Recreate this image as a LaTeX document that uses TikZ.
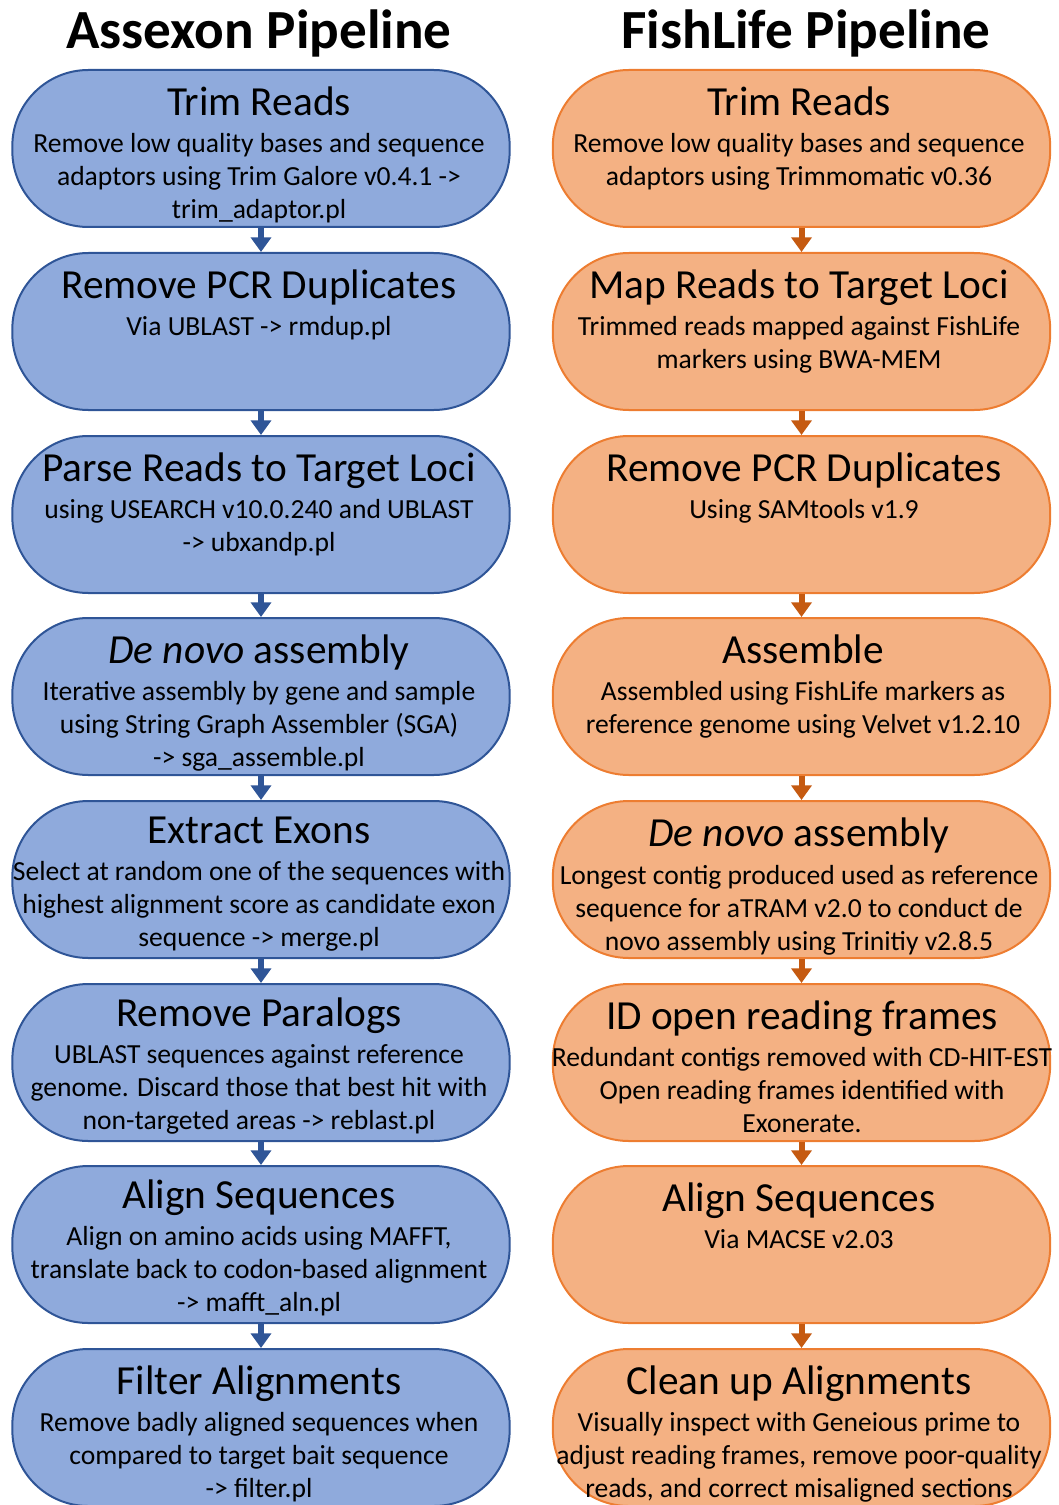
\documentclass[tikz,border=0pt]{standalone}
\usepackage{fontspec}
\setmainfont{Carlito}
\usetikzlibrary{arrows.meta}
\definecolor{asxfill}{HTML}{8FAADC}
\definecolor{asxline}{HTML}{2F5597}
\definecolor{fshfill}{HTML}{F4B183}
\definecolor{fshline}{HTML}{ED7D31}
\definecolor{fsharr}{HTML}{C55A11}
\newcommand{\fl}{\rule{0pt}{20pt}}
\tikzset{
    stage/.style={rectangle, rounded corners=57pt, minimum width=373pt,
                  minimum height=117.75pt, line width=1.5pt, inner sep=0pt},
    asx/.style={stage, draw=asxline, fill=asxfill},
    fsh/.style={stage, draw=fshline, fill=fshfill},
    ttl/.style={anchor=base, inner sep=0pt, font=\fontsize{31}{36}\selectfont},
    txt/.style={anchor=north, align=center, inner sep=0pt,
                font=\fontsize{20.7}{24.75}\selectfont},
    head/.style={anchor=base, inner sep=0pt, font=\bfseries\fontsize{41.4}{46}\selectfont},
    asxarr/.style={draw=asxline, line width=4.5pt, -{Triangle[width=15pt,length=11pt]}},
    fsharr/.style={draw=fsharr, line width=4.5pt, -{Triangle[width=15pt,length=11pt]}}
}
\begin{document}
\begin{tikzpicture}[x=0.75pt, y=-0.75pt]
  \useasboundingbox (0,0) rectangle (1058,1505);

  \node[head] (ha) at (259, 48.5) {Assexon Pipeline};
  \node[head] (hf) at (806, 48.5) {FishLife Pipeline};

  % Assexon column
  \node[asx] (a1) at (261, 148.5) {};
  \node[asx] (a2) at (261, 331.5) {};
  \node[asx] (a3) at (261, 514.5) {};
  \node[asx] (a4) at (261, 696.5) {};
  \node[asx] (a5) at (261, 879.5) {};
  \node[asx] (a6) at (261, 1062.5) {};
  \node[asx] (a7) at (261, 1244.5) {};
  \node[asx] (a8) at (261, 1427.5) {};

  \node[ttl] (a1t) at (259, 115.5) {Trim Reads};
  \node[txt] (a1b) at (259, 125.3) {\fl Remove low quality bases and sequence\\
    adaptors using Trim Galore v0.4.1 ->\\ trim\_adaptor.pl};
  \node[ttl] (a2t) at (259, 298.5) {Remove PCR Duplicates};
  \node[txt] (a2b) at (259, 308.3) {\fl Via UBLAST -> rmdup.pl};
  \node[ttl] (a3t) at (259, 481.5) {Parse Reads to Target Loci};
  \node[txt] (a3b) at (259, 491.3) {\fl using USEARCH v10.0.240 and UBLAST\\
    -> ubxandp.pl};
  \node[ttl] (a4t) at (259, 663.5) {\textit{De novo} assembly};
  \node[txt] (a4b) at (259, 673.3) {\fl Iterative assembly by gene and sample\\
    using String Graph Assembler (SGA)\\ -> sga\_assemble.pl};
  \node[ttl] (a5t) at (259, 843.5) {Extract Exons};
  \node[txt] (a5b) at (259, 853.3) {\fl Select at random one of the sequences with\\
    highest alignment score as candidate exon\\ sequence -> merge.pl};
  \node[ttl] (a6t) at (259, 1026.5) {Remove Paralogs};
  \node[txt] (a6b) at (259, 1036.3) {\fl UBLAST sequences against reference\\
    genome. Discard those that best hit with\\ non-targeted areas -> reblast.pl};
  \node[ttl] (a7t) at (259, 1208.5) {Align Sequences};
  \node[txt] (a7b) at (259, 1218.3) {\fl Align on amino acids using MAFFT,\\
    translate back to codon-based alignment\\ -> mafft\_aln.pl};
  \node[ttl] (a8t) at (259, 1394.5) {Filter Alignments};
  \node[txt] (a8b) at (259, 1404.3) {\fl Remove badly aligned sequences when\\
    compared to target bait sequence\\ -> filter.pl};

  % FishLife column
  \node[fsh] (f1) at (801.5, 148.5) {};
  \node[fsh] (f2) at (801.5, 331.5) {};
  \node[fsh] (f3) at (801.5, 514.5) {};
  \node[fsh] (f4) at (801.5, 696.5) {};
  \node[fsh] (f5) at (801.5, 879.5) {};
  \node[fsh] (f6) at (801.5, 1062.5) {};
  \node[fsh] (f7) at (801.5, 1244.5) {};
  \node[fsh] (f8) at (801.5, 1427.5) {};

  \node[ttl] (f1t) at (799, 115.5) {Trim Reads};
  \node[txt] (f1b) at (799, 125.3) {\fl Remove low quality bases and sequence\\
    adaptors using Trimmomatic v0.36};
  \node[ttl] (f2t) at (799, 298.5) {Map Reads to Target Loci};
  \node[txt] (f2b) at (799, 308.3) {\fl Trimmed reads mapped against FishLife\\
    markers using BWA-MEM};
  \node[ttl] (f3t) at (804, 481.5) {Remove PCR Duplicates};
  \node[txt] (f3b) at (804, 491.3) {\fl Using SAMtools v1.9};
  \node[ttl] (f4t) at (803, 663.5) {Assemble};
  \node[txt] (f4b) at (803, 673.3) {\fl Assembled using FishLife markers as\\
    reference genome using Velvet v1.2.10};
  \node[ttl] (f5t) at (799, 846.5) {\textit{De novo} assembly};
  \node[txt] (f5b) at (799, 857.3) {\fl Longest contig produced used as reference\\
    sequence for aTRAM v2.0 to conduct de\\ novo assembly using Trinitiy v2.8.5};
  \node[ttl] (f6t) at (802, 1029.5) {ID open reading frames};
  \node[txt] (f6b) at (802, 1039.3) {\fl Redundant contigs removed with CD-HIT-EST\\
    Open reading frames identified with\\ Exonerate.};
  \node[ttl] (f7t) at (799, 1211.5) {Align Sequences};
  \node[txt] (f7b) at (799, 1221.3) {\fl Via MACSE v2.03};
  \node[ttl] (f8t) at (799, 1394.5) {Clean up Alignments};
  \node[txt] (f8b) at (799, 1404.3) {\fl Visually inspect with Geneious prime to\\
    adjust reading frames, remove poor-quality\\ reads, and correct misaligned sections};

  % arrows between steps
  \draw[asxarr] (a1) -- (a2); \draw[asxarr] (a2) -- (a3);
  \draw[asxarr] (a3) -- (a4); \draw[asxarr] (a4) -- (a5);
  \draw[asxarr] (a5) -- (a6); \draw[asxarr] (a6) -- (a7);
  \draw[asxarr] (a7) -- (a8);
  \draw[fsharr] (f1) -- (f2); \draw[fsharr] (f2) -- (f3);
  \draw[fsharr] (f3) -- (f4); \draw[fsharr] (f4) -- (f5);
  \draw[fsharr] (f5) -- (f6); \draw[fsharr] (f6) -- (f7);
  \draw[fsharr] (f7) -- (f8);
\end{tikzpicture}
\end{document}
